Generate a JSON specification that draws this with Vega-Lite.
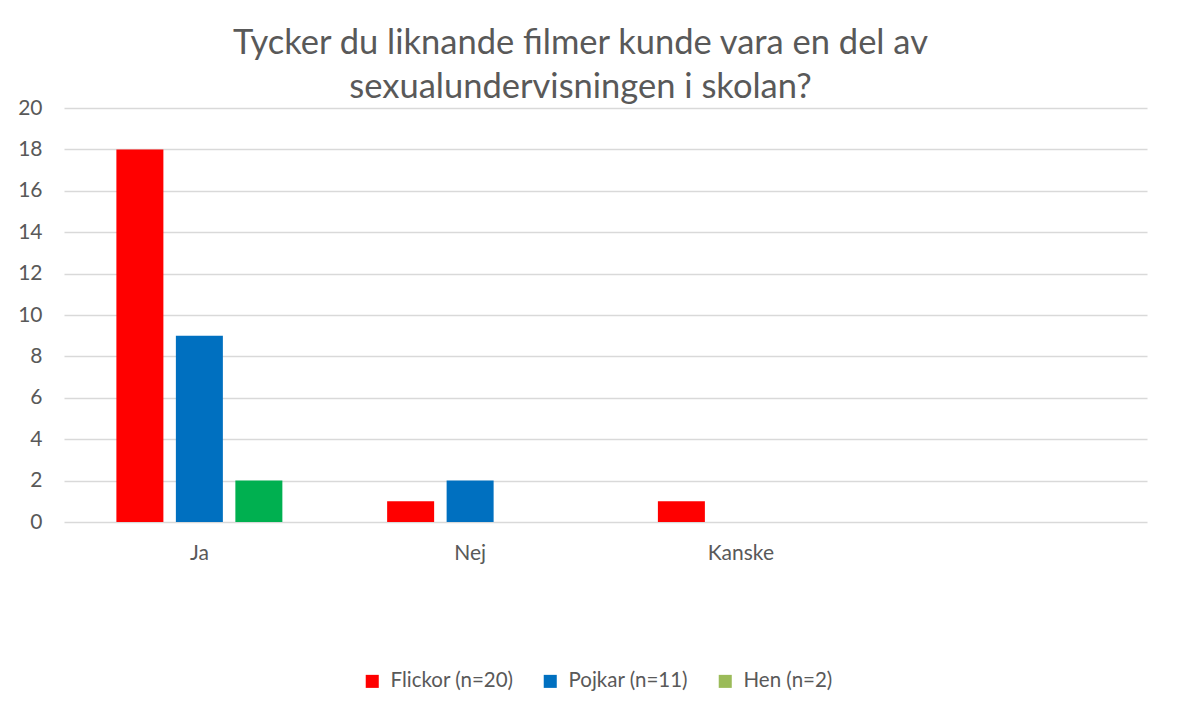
{
  "$schema": "https://vega.github.io/schema/vega-lite/v6.json",
  "width": 1083,
  "height": 414,
  "autosize": {"type": "none"},
  "padding": {"left": 64, "top": 108, "right": 30, "bottom": 189},
  "background": "white",
  "title": {
    "text": ["Tycker du liknande filmer kunde vara en del av", "sexualundervisningen i skolan?"],
    "font": "Lato",
    "fontSize": 34.5,
    "fontWeight": "normal",
    "color": "#595959",
    "lineHeight": 44,
    "offset": -8,
    "dx": -25,
    "anchor": "middle"
  },
  "data": {
    "values": [
      {"svar": "Ja", "grupp": "Flickor (n=20)", "antal": 18},
      {"svar": "Ja", "grupp": "Pojkar (n=11)", "antal": 9},
      {"svar": "Ja", "grupp": "Hen (n=2)", "antal": 2},
      {"svar": "Nej", "grupp": "Flickor (n=20)", "antal": 1},
      {"svar": "Nej", "grupp": "Pojkar (n=11)", "antal": 2},
      {"svar": "Nej", "grupp": "Hen (n=2)", "antal": 0},
      {"svar": "Kanske", "grupp": "Flickor (n=20)", "antal": 1},
      {"svar": "Kanske", "grupp": "Pojkar (n=11)", "antal": 0},
      {"svar": "Kanske", "grupp": "Hen (n=2)", "antal": 0}
    ]
  },
  "mark": {"type": "bar"},
  "encoding": {
    "x": {
      "field": "svar",
      "type": "nominal",
      "sort": null,
      "scale": {"domain": ["Ja", "Nej", "Kanske", " "], "paddingInner": 0.387, "paddingOuter": 0.1935},
      "axis": {
        "title": null,
        "labelAngle": 0,
        "domain": false,
        "ticks": false,
        "grid": false,
        "labelPadding": 20,
        "labelFont": "Lato",
        "labelFontSize": 21,
        "labelColor": "#595959"
      }
    },
    "xOffset": {
      "field": "grupp",
      "type": "nominal",
      "sort": null,
      "scale": {"domain": ["Flickor (n=20)", "Pojkar (n=11)", "Hen (n=2)"], "paddingInner": 0.21, "paddingOuter": 0}
    },
    "y": {
      "field": "antal",
      "type": "quantitative",
      "scale": {"domain": [0, 20], "nice": false},
      "axis": {
        "title": null,
        "values": [0, 2, 4, 6, 8, 10, 12, 14, 16, 18, 20],
        "domain": false,
        "ticks": false,
        "grid": true,
        "gridColor": "#D9D9D9",
        "gridWidth": 1.3,
        "labelPadding": 22,
        "labelFont": "Lato",
        "labelFontSize": 21,
        "labelColor": "#595959"
      }
    },
    "color": {
      "condition": {"test": "datum.grupp === 'Hen (n=2)'", "value": "#00B050"},
      "field": "grupp",
      "type": "nominal",
      "sort": null,
      "scale": {"domain": ["Flickor (n=20)", "Pojkar (n=11)", "Hen (n=2)"], "range": ["#FF0000", "#0070C0", "#9BBB59"]},
      "legend": {
        "title": null,
        "orient": "none",
        "direction": "horizontal",
        "legendX": 298,
        "legendY": 563,
        "symbolType": "square",
        "symbolSize": 170,
        "symbolStrokeWidth": 0,
        "labelFont": "Lato",
        "labelFontSize": 20.5,
        "labelColor": "#595959",
        "labelOffset": 8,
        "columnPadding": 26
      }
    }
  },
  "config": {"view": {"stroke": null}}
}
